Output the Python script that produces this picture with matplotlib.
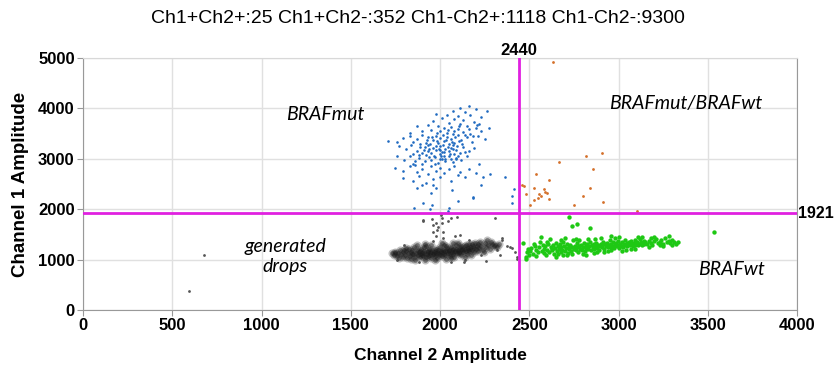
import matplotlib
matplotlib.use('Agg')
import matplotlib.pyplot as plt

title = 'Ch1+Ch2+:25 Ch1+Ch2-:352 Ch1-Ch2+:1118 Ch1-Ch2-:9300'
thr_ch2 = 2440
thr_ch1 = 1921
x_ticks = [0, 500, 1000, 1500, 2000, 2500, 3000, 3500, 4000]
y_ticks = [0, 1000, 2000, 3000, 4000, 5000]

# Ch1+Ch2- droplets (BRAFmut)
blue_pts = [
    (2163, 4048), (2110, 4000), (2200, 3980), (2070, 3950), (2263, 3950), (2140, 3920),
    (1980, 3880), (2040, 3860), (2100, 3850), (2170, 3870), (2230, 3820), (2010, 3800),
    (2080, 3780), (2130, 3760), (2190, 3740), (1960, 3750), (2050, 3720), (2110, 3700),
    (2220, 3700), (1870, 3650), (1930, 3680), (1990, 3660), (2020, 3620), (2060, 3640),
    (2100, 3600), (2150, 3650), (2200, 3620), (2275, 3611), (1900, 3560), (1950, 3580),
    (2000, 3550), (2040, 3520), (2080, 3560), (2130, 3540), (2170, 3500), (2230, 3550),
    (1830, 3520), (1790, 3420), (1830, 3460), (1870, 3400), (1900, 3480), (1930, 3430),
    (1960, 3380), (1980, 3460), (2000, 3420), (2020, 3350), (2040, 3440), (2060, 3400),
    (2080, 3320), (2100, 3470), (2120, 3380), (2150, 3430), (2180, 3340), (2210, 3460),
    (2250, 3400), (1850, 3330), (1920, 3320), (1990, 3310), (2050, 3300), (1709, 3353),
    (1760, 3340), (1770, 3250), (1810, 3200), (1840, 3280), (1870, 3150), (1890, 3240),
    (1910, 3180), (1930, 3280), (1950, 3120), (1960, 3220), (1980, 3170), (2000, 3260),
    (2010, 3130), (2030, 3200), (2050, 3150), (2070, 3280), (2090, 3180), (2110, 3120),
    (2130, 3240), (2160, 3160), (2190, 3220), (1850, 3100), (1940, 3200), (2000, 3100),
    (2080, 3100), (1900, 3120), (1760, 3050), (1800, 2980), (1830, 3060), (1860, 2950),
    (1880, 3020), (1900, 2900), (1920, 3080), (1950, 2980), (1970, 3040), (1990, 2920),
    (2010, 3000), (2030, 2960), (2050, 3060), (2070, 2940), (2090, 3020), (2120, 2980),
    (2150, 3050), (1850, 2900), (2220, 2900), (2000, 2996), (2030, 2990), (2060, 2996),
    (2090, 2990), (1750, 2820), (1790, 2760), (1830, 2850), (1870, 2730), (1900, 2800),
    (1930, 2700), (1950, 2860), (1980, 2760), (2000, 2820), (2020, 2720), (2050, 2790),
    (2080, 2850), (2110, 2740), (2160, 2800), (2200, 2720), (1860, 2880), (1790, 2620),
    (1850, 2560), (1880, 2660), (1920, 2520), (1960, 2600), (2000, 2640), (2060, 2560),
    (2100, 2680), (2141, 2640), (2241, 2639), (2364, 2639), (2280, 2700), (1900, 2480),
    (1960, 2480), (2067, 2381), (2185, 2222), (2415, 2400), (2230, 2480), (2403, 2262),
    (2403, 2123), (1980, 2420), (1870, 2430), (1950, 2330), (1854, 2024), (1905, 2123),
    (1955, 2083), (1944, 2004), (2050, 2024), (2045, 1964), (2101, 2163), (2185, 2242),
    # denser core
    (1915, 3230), (1935, 3150), (1945, 3300), (1965, 3060), (1975, 3250), (1985, 3350),
    (1995, 3190), (2005, 3050), (2015, 3280), (2025, 3140), (2035, 3380), (2045, 3230),
    (2055, 3100), (2065, 3330), (2075, 3200), (2085, 3430), (2095, 3260), (2105, 3350),
    (1925, 3370), (1955, 3440), (1985, 3520), (2015, 3470), (2045, 3580), (2075, 3500),
    (2105, 3660), (2125, 3300), (2140, 3480), (2165, 3590), (2185, 3460), (2205, 3680),
    (1890, 3300), (1880, 3080), (1915, 2960), (1940, 3040), (1970, 2900), (2000, 3180),
    (2020, 3060), (2060, 3210), (2100, 3060), (2140, 3130),
]

# Ch1+Ch2+ droplets (BRAFmut/BRAFwt)
orange_pts = [
    (2633, 4920), (2667, 2937), (2818, 3056), (2908, 3115), (2857, 2798), (2538, 2698),
    (2459, 2480), (2470, 2460), (2611, 2579), (2527, 2420), (2588, 2341), (2600, 2321),
    (2555, 2302), (2566, 2262), (2549, 2222), (2527, 2183), (2611, 2202), (2504, 2083),
    (2751, 2083), (2801, 2262), (2840, 2420), (2913, 2143), (3104, 1964), (2480, 2300),
    (2580, 2400),
]

# Ch1-Ch2+ droplets (BRAFwt)
green_pts = [
    (2465, 1329), (2482, 1011), (2482, 1050), (2490, 1150), (2495, 1220), (2505, 1180),
    (2510, 1230), (2520, 1120), (2530, 1260), (2540, 1190), (2550, 1150), (2555, 1240),
    (2500, 1100), (2525, 1300), (2566, 1448), (2570, 1170), (2580, 1220), (2585, 1130),
    (2590, 1260), (2600, 1200), (2605, 1300), (2610, 1160), (2616, 1409), (2620, 1240),
    (2630, 1190), (2635, 1280), (2640, 1120), (2645, 1230), (2650, 1330), (2575, 1290),
    (2595, 1100), (2625, 1210), (2655, 1180), (2660, 1260), (2665, 1220), (2670, 1300),
    (2675, 1150), (2680, 1240), (2685, 1200), (2690, 1350), (2695, 1270), (2700, 1180),
    (2705, 1230), (2710, 1310), (2715, 1140), (2720, 1250), (2725, 1210), (2730, 1290),
    (2735, 1170), (2740, 1240), (2745, 1380), (2750, 1220), (2739, 1667), (2723, 1845),
    (2768, 1706), (2700, 1420), (2660, 1120), (2690, 1100), (2755, 1270), (2760, 1190),
    (2765, 1240), (2770, 1320), (2775, 1160), (2780, 1260), (2785, 1220), (2790, 1290),
    (2795, 1200), (2800, 1250), (2805, 1330), (2810, 1180), (2815, 1270), (2820, 1230),
    (2825, 1300), (2830, 1210), (2835, 1260), (2840, 1627), (2840, 1350), (2845, 1190),
    (2850, 1280), (2760, 1400), (2800, 1120), (2830, 1400), (2855, 1240), (2860, 1300),
    (2865, 1210), (2870, 1270), (2875, 1330), (2880, 1230), (2885, 1290), (2890, 1190),
    (2895, 1260), (2900, 1310), (2905, 1240), (2910, 1280), (2915, 1350), (2920, 1220),
    (2925, 1300), (2930, 1260), (2935, 1320), (2940, 1240), (2945, 1290), (2950, 1380),
    (2880, 1150), (2920, 1160), (2870, 1400), (2955, 1250), (2960, 1300), (2965, 1270),
    (2970, 1340), (2975, 1230), (2980, 1290), (2985, 1320), (2990, 1260), (2995, 1360),
    (3000, 1280), (3005, 1230), (3010, 1310), (3015, 1270), (3020, 1340), (3025, 1250),
    (3030, 1300), (3035, 1380), (3040, 1280), (3045, 1320), (3050, 1260), (2980, 1420),
    (3020, 1180), (2960, 1190), (3055, 1300), (3060, 1340), (3065, 1280), (3070, 1360),
    (3075, 1310), (3080, 1260), (3085, 1330), (3090, 1390), (3095, 1290), (3100, 1320),
    (3105, 1350), (3110, 1280), (3115, 1310), (3120, 1400), (3125, 1340), (3130, 1290),
    (3135, 1320), (3140, 1370), (3145, 1300), (3150, 1340), (3070, 1220), (3110, 1440),
    (3160, 1310), (3170, 1370), (3180, 1330), (3190, 1290), (3200, 1360), (3210, 1400),
    (3220, 1320), (3230, 1350), (3240, 1380), (3250, 1310), (3260, 1420), (3270, 1340),
    (3280, 1370), (3290, 1330), (3300, 1390), (3310, 1350), (3320, 1300), (3333, 1340),
    (3200, 1450), (3250, 1260), (3535, 1548), (3180, 1420), (3230, 1290),
    # outer edge of the band
    (2540, 1080), (2600, 1350), (2650, 1060), (2710, 1090), (2780, 1380), (2820, 1100),
    (2860, 1140), (2900, 1420), (2940, 1170), (3000, 1440), (3040, 1190), (3090, 1210),
    (3130, 1450), (3170, 1250), (3280, 1460), (3300, 1280), (2560, 1350), (2740, 1110),
    (2680, 1380), (2960, 1460),
]

# Ch1-Ch2- droplets (generated drops), dense core
black_pts = [
    (1731, 1131), (1740, 1100), (1750, 1160), (1760, 1080), (1765, 1130), (1775, 1190),
    (1780, 1110), (1790, 1060), (1795, 1150), (1800, 1200), (1745, 1140), (1770, 1040),
    (1805, 1100), (1810, 1170), (1815, 1040), (1820, 1130), (1825, 1210), (1830, 1080),
    (1835, 1150), (1840, 1010), (1845, 1190), (1850, 1110), (1855, 1250), (1860, 1060),
    (1865, 1140), (1870, 1200), (1875, 1090), (1880, 1160), (1812, 1230), (1842, 1120),
    (1862, 990), (1872, 1280), (1885, 1120), (1890, 1050), (1895, 1210), (1900, 1140),
    (1905, 1080), (1910, 1180), (1915, 1000), (1920, 1260), (1925, 1120), (1930, 1170),
    (1935, 1070), (1940, 1220), (1945, 1140), (1950, 1030), (1955, 1190), (1960, 1110),
    (1888, 1170), (1898, 1100), (1912, 1130), (1922, 1060), (1932, 1150), (1942, 1100),
    (1952, 1160), (1918, 1300), (1948, 1280), (1908, 1240), (1965, 1160), (1970, 1080),
    (1975, 1220), (1980, 1130), (1985, 1040), (1990, 1190), (1995, 1110), (2000, 1250),
    (2005, 1150), (2010, 1070), (2015, 1200), (2020, 1120), (2025, 1290), (2030, 1170),
    (2035, 1020), (2040, 1230), (1968, 1120), (1978, 1180), (1988, 1140), (1998, 1090),
    (2008, 1170), (2018, 1150), (2028, 1100), (2038, 1180), (1972, 1000), (2012, 1320),
    (2032, 1260), (2045, 1140), (2050, 1200), (2055, 1080), (2060, 1250), (2065, 1160),
    (2070, 1110), (2075, 1220), (2080, 1050), (2085, 1180), (2090, 1280), (2095, 1130),
    (2100, 1200), (2105, 1160), (2110, 1240), (2115, 1090), (2120, 1190), (2048, 1170),
    (2058, 1120), (2068, 1200), (2078, 1150), (2088, 1220), (2098, 1170), (2108, 1130),
    (2118, 1260), (2072, 1320), (2102, 1330), (2062, 1030), (2125, 1220), (2130, 1150),
    (2140, 1260), (2145, 1180), (2150, 1120), (2155, 1230), (2160, 1300), (2165, 1170),
    (2170, 1240), (2175, 1100), (2180, 1200), (2185, 1270), (2190, 1150), (2195, 1330),
    (2200, 1220), (2128, 1190), (2138, 1210), (2148, 1280), (2158, 1190), (2168, 1210),
    (2178, 1310), (2188, 1230), (2140, 1060), (2205, 1260), (2210, 1180), (2215, 1300),
    (2220, 1230), (2230, 1270), (2240, 1200), (2250, 1330), (2260, 1250), (2270, 1290),
    (2280, 1220), (2290, 1310), (2300, 1260), (2310, 1280), (2319, 1250), (2330, 1300),
    (2225, 1350), (2245, 1150), (2265, 1380), (2285, 1340),
]

# scattered negatives outside the core
gray_pts = [
    (2134, 952), (2258, 972), (2336, 1091), (2347, 1429), (2375, 1270), (2392, 1250),
    (2420, 1150), (2431, 1011), (2431, 1060), (2403, 1230), (2347, 1385), (2308, 1825),
    (2140, 992), (678, 1091), (594, 377), (1905, 1786), (1955, 1806), (2006, 1885),
    (2011, 1825), (2062, 1825), (2095, 1845), (2045, 1766), (1978, 1726), (1989, 1647),
    (1961, 1548), (1978, 1468), (2017, 1429), (1983, 1587), (2017, 1548), (2084, 1468),
    (2112, 1488), (1905, 1766), (1961, 1687), (2011, 1726), (1760, 1000), (1800, 1290),
    (1880, 960), (1960, 1360), (2060, 960), (2160, 1380), (2230, 1100), (2320, 1190),
]

labels = ['BRAFmut', 'BRAFmut/BRAFwt', 'generated\ndrops', 'BRAFwt']
label_pos = [(1356, 3870), (3378, 4107), (1132, 1060), (3630, 794)]


def xy(pts):
    return [p[0] for p in pts], [p[1] for p in pts]


fig = plt.figure(figsize=(8.36, 3.65), dpi=100)
ax = fig.add_axes([0.0993, 0.1507, 0.8541, 0.6904])

ax.scatter(*xy(gray_pts), s=4, color='#555555', lw=0, zorder=3)
ax.scatter(*xy(black_pts), s=34, color='#505050', alpha=0.35, lw=0, zorder=3)
ax.scatter(*xy(black_pts), s=12, color='#1a1a1a', alpha=0.45, lw=0, zorder=3)
ax.scatter(*xy(blue_pts), s=3.5, color='#1f6ac0', lw=0, zorder=3)
ax.scatter(*xy(green_pts), s=10, color='#1ec814', lw=0, zorder=3)
ax.scatter(*xy(orange_pts), s=4, color='#d4702a', lw=0, zorder=3)

ax.axvline(thr_ch2, color='#e020e0', lw=2, zorder=4)
ax.axhline(thr_ch1, color='#e020e0', lw=2, zorder=4)

ax.set_xlim(0, 4000)
ax.set_ylim(0, 5000)
ax.set_xticks(x_ticks)
ax.set_yticks(y_ticks)
ax.grid(color='#e0e0e0', lw=1)
ax.set_axisbelow(True)
for side in ['left', 'bottom', 'right']:
    ax.spines[side].set_color('#999999')
ax.spines['top'].set_color('#d8d8d8')
ax.tick_params(length=4, color='#999999', pad=2)
for t in ax.get_xticklabels():
    t.set_fontfamily('Liberation Sans')
    t.set_fontweight('bold')
    t.set_fontsize(12)
for t in ax.get_yticklabels():
    t.set_fontfamily('Liberation Sans')
    t.set_fontweight('bold')
    t.set_fontsize(12)

ax.set_xlabel('Channel 2 Amplitude', family='Liberation Sans', weight='bold', fontsize=12.5)
ax.xaxis.set_label_coords(0.5, -0.179)
ax.xaxis.label.set_va('center')
ax.set_ylabel('Channel 1 Amplitude', family='Liberation Sans', weight='bold', fontsize=13.5)
ax.yaxis.set_label_coords(-0.088, 0.5)
ax.yaxis.label.set_va('center')

ax.text(thr_ch2, 5000, str(thr_ch2), ha='center', va='bottom',
        family='Liberation Sans', weight='bold', fontsize=12)
ax.text(4005, thr_ch1, str(thr_ch1), ha='left', va='center',
        family='Liberation Sans', weight='bold', fontsize=11.5)

for s, (lx, ly) in zip(labels, label_pos):
    ax.text(lx, ly, s, ha='center', va='center', style='italic', family='Lato',
            fontsize=14, linespacing=1.2, zorder=5)

fig.text(0.5, 0.95, title, ha='center', va='center', family='Liberation Sans', fontsize=14)

fig.savefig('out.png', dpi=100)
